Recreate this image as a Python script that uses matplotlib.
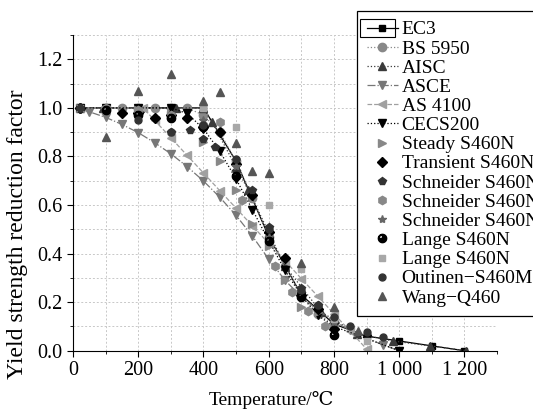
import matplotlib
matplotlib.use("Agg")
import matplotlib.pyplot as plt
from matplotlib.patches import Rectangle
from matplotlib.ticker import MultipleLocator

plt.rcParams["font.family"] = ["Liberation Serif", "DejaVu Serif"]

# design codes
ec3_t = [20, 100, 200, 300, 400, 500, 600, 700, 800, 900, 1000, 1100, 1200]
ec3_k = [1.0, 1.0, 1.0, 1.0, 1.0, 0.78, 0.47, 0.23, 0.11, 0.06, 0.04, 0.02, 0.0]

bs_t = [20, 100, 150, 200, 250, 300, 350, 400, 450, 500, 550, 600, 650, 700, 750, 800]
bs_k = [1.0, 1.0, 1.0, 1.0, 1.0, 1.0, 1.0, 0.97, 0.90, 0.78, 0.63, 0.47, 0.35, 0.23, 0.15, 0.11]

aisc_t = [20, 93, 204, 316, 399, 427, 538, 649, 760, 871, 982, 1093, 1204]
aisc_k = [1.0, 1.0, 1.0, 1.0, 1.0, 0.94, 0.66, 0.35, 0.16, 0.07, 0.04, 0.02, 0.0]

asce_t = [20, 50, 100, 150, 200, 250, 300, 350, 400, 450, 500, 550, 600,
          650, 700, 750, 800, 850, 900, 950, 1000]
asce_k = [0.995, 0.984, 0.961, 0.932, 0.898, 0.857, 0.811, 0.758, 0.699, 0.632,
          0.557, 0.472, 0.377, 0.290, 0.222, 0.167, 0.121, 0.084, 0.052, 0.024, 0.0]

as4100_t = [20, 100, 200, 215, 250, 300, 350, 400, 450, 500, 550, 600, 650,
            700, 750, 800, 850, 900]
as4100_k = [1.0, 1.0, 1.0, 1.0, 0.949, 0.877, 0.804, 0.732, 0.659, 0.587, 0.514,
            0.442, 0.370, 0.297, 0.225, 0.152, 0.080, 0.007]

cecs_t = [20, 100, 200, 300, 350, 400, 450, 500, 550, 600, 650, 700, 750, 800, 900, 1000]
cecs_k = [1.0, 1.0, 1.0, 1.0, 0.977, 0.914, 0.821, 0.707, 0.581, 0.453, 0.331,
          0.226, 0.146, 0.10, 0.05, 0.0]

# test data
steady_t = [20, 100, 200, 300, 400, 450, 500, 550, 600, 650, 700, 750, 800]
steady_k = [1.0, 0.99, 0.99, 0.97, 0.86, 0.78, 0.66, 0.52, 0.43, 0.29, 0.18, 0.16, 0.10]

trans_t = [20, 150, 200, 250, 300, 350, 400, 450, 500, 550, 600, 650, 700, 750, 800]
trans_k = [1.0, 0.98, 0.98, 0.96, 0.97, 0.96, 0.92, 0.90, 0.77, 0.64, 0.49, 0.38, 0.23, 0.17, 0.09]

sch1_t = [20, 300, 360, 400, 436, 500, 550, 600, 700, 750, 800]
sch1_k = [1.0, 0.90, 0.91, 0.87, 0.84, 0.74, 0.66, 0.51, 0.26, 0.19, 0.12]

sch2_t = [20, 100, 200, 300, 400, 450, 518, 620, 671, 720, 773]
sch2_k = [1.0, 1.0, 0.99, 0.97, 0.93, 0.94, 0.62, 0.35, 0.24, 0.165, 0.10]

sch3_t = [20, 400, 500, 600, 700, 800]
sch3_k = [1.0, 0.95, 0.76, 0.47, 0.24, 0.12]

lange1_t = [20, 100, 200, 300, 400, 500, 600, 700, 800]
lange1_k = [1.0, 0.99, 0.97, 0.96, 0.92, 0.72, 0.45, 0.22, 0.065]

lange2_t = [20, 400, 500, 600, 700, 800, 900]
lange2_k = [1.0, 1.0, 0.92, 0.60, 0.335, 0.13, 0.04]

outinen_t = [20, 200, 300, 400, 500, 600, 700, 750, 800, 850, 900, 950]
outinen_k = [1.0, 0.95, 0.90, 0.93, 0.79, 0.50, 0.25, 0.19, 0.14, 0.10, 0.075, 0.058]

wang_t = [100, 200, 300, 400, 450, 500, 550, 600, 700, 800, 875]
wang_k = [0.88, 1.07, 1.14, 1.03, 1.065, 0.855, 0.74, 0.73, 0.36, 0.18, 0.08]

x_ticks = [0, 200, 400, 600, 800, 1000, 1200]
x_labels = ["0", "200", "400", "600", "800", "1 000", "1 200"]

fig = plt.figure(figsize=(5.33, 4.11), dpi=100)
ax = fig.add_axes([0.137, 0.1467, 0.7955, 0.768])

ms = 6
ax.plot(ec3_t, ec3_k, "-", color="black", lw=0.9, marker="s", ms=5, label="EC3")
ax.plot(bs_t, bs_k, ":", color="#888888", lw=0.9, marker="o", ms=ms, label="BS 5950")
ax.plot(aisc_t, aisc_k, ":", color="#3a3a3a", lw=0.9, marker="^", ms=ms, label="AISC")
ax.plot(asce_t, asce_k, "-.", color="#777777", lw=0.9, marker="v", ms=ms, label="ASCE")
ax.plot(as4100_t, as4100_k, "--", color="#a0a0a0", lw=0.9, marker="<", ms=ms, label="AS 4100")
ax.plot(cecs_t, cecs_k, ":", color="black", lw=0.9, marker="v", ms=ms, label="CECS200")
ax.plot(steady_t, steady_k, ls="none", color="#888888", marker=">", ms=ms, label="Steady S460N")
ax.plot(trans_t, trans_k, ls="none", color="black", marker="D", ms=5, label="Transient S460N")
ax.plot(sch1_t, sch1_k, ls="none", color="#333333", marker="p", ms=ms, label="Schneider S460N 1")
ax.plot(sch2_t, sch2_k, ls="none", color="#888888", marker="h", ms=ms, label="Schneider S460N 2")
ax.plot(sch3_t, sch3_k, ls="none", color="#666666", marker="*", ms=ms, label="Schneider S460N 3")
ax.plot(lange1_t, lange1_k, ls="none", color="black", marker="$\u25d5$", ms=ms, label="Lange S460N")
ax.plot(lange2_t, lange2_k, ls="none", color="#a8a8a8", marker="s", ms=5, label="Lange S460N")
ax.plot(outinen_t, outinen_k, ls="none", color="#333333", marker="o", ms=5, label="Outinen\u2212S460M")
ax.plot(wang_t, wang_k, ls="none", color="#555555", marker="^", ms=ms, label="Wang\u2212Q460")

ax.set_xlim(0, 1300)
ax.set_ylim(0, 1.3)
ax.set_xticks(x_ticks)
ax.set_xticklabels(x_labels)
ax.xaxis.set_minor_locator(MultipleLocator(100))
ax.yaxis.set_major_locator(MultipleLocator(0.2))
ax.yaxis.set_minor_locator(MultipleLocator(0.1))
ax.yaxis.set_major_formatter(matplotlib.ticker.FormatStrFormatter("%.1f"))
ax.tick_params(which="major", direction="out", length=4, labelsize=14.5)
ax.tick_params(which="minor", direction="out", length=2)
ax.grid(True, which="both", ls=(0, (2, 2)), color="#c8c8c8", lw=0.7)
ax.set_axisbelow(True)
for s in ["top", "right"]:
    ax.spines[s].set_visible(False)

ax.set_xlabel("Temperature/\u2103", fontsize=14)
ax.xaxis.set_label_coords(0.469, -0.128)
ax.set_ylabel("Yield strength reduction factor", fontsize=17)
ax.yaxis.set_label_coords(-0.106, 0.37)

leg = fig.legend(loc="upper left", bbox_to_anchor=(357 / 533, 1 - 11 / 411),
                 fontsize=14, frameon=True, fancybox=False, edgecolor="black",
                 framealpha=1, labelspacing=0.08, handlelength=1.6,
                 handletextpad=0.2, borderpad=0.5, borderaxespad=0)
leg.get_frame().set_linewidth(0.9)
# Origin-style highlight box round the first legend handle
fig.patches.append(Rectangle((360 / 533, 1 - 37 / 411), 35 / 533, 18 / 411,
                             transform=fig.transFigure, fill=False,
                             edgecolor="black", lw=0.8, zorder=10))

fig.savefig("out.png", dpi=100)
